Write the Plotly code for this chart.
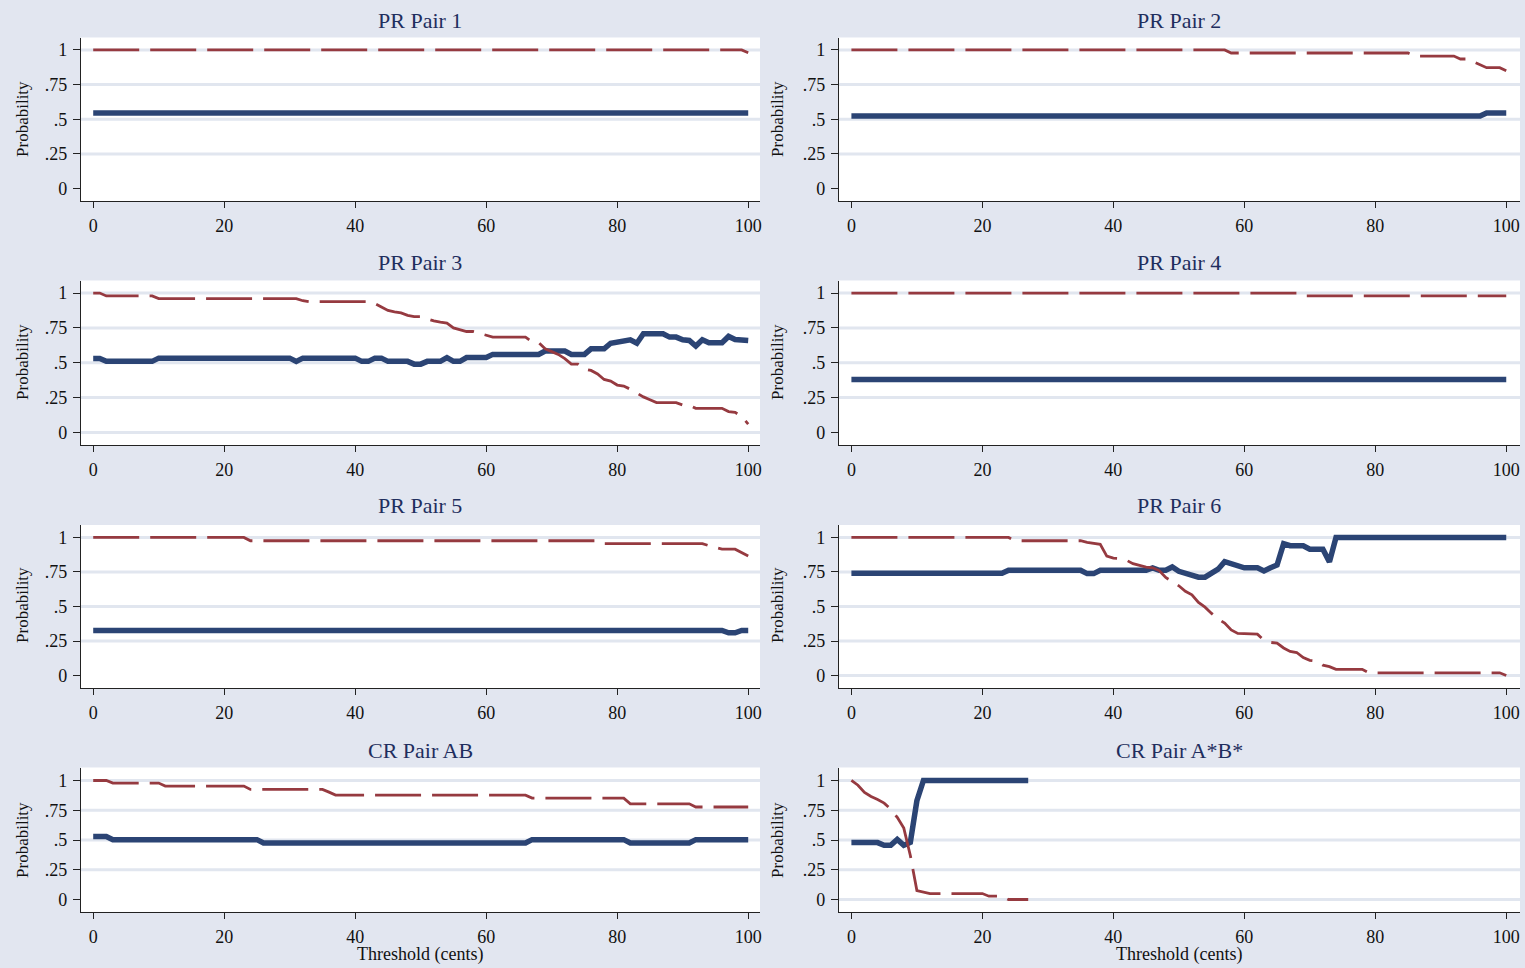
import plotly.graph_objects as go

# ---------------- data ----------------
titles = ["PR Pair 1", "PR Pair 2", "PR Pair 3", "PR Pair 4",
          "PR Pair 5", "PR Pair 6", "CR Pair AB", "CR Pair A*B*"]

x_ticks = [0, 20, 40, 60, 80, 100]
y_ticks = [0, 0.25, 0.5, 0.75, 1]
y_tick_labels = ["0", ".25", ".5", ".75", "1"]

# Panel 1
p1_solid_x = [0, 100]
p1_solid_y = [0.545, 0.545]
p1_dash_x = [0, 99, 100]
p1_dash_y = [1.0, 1.0, 0.98]

# Panel 2
p2_solid_x = [0, 96, 97, 100]
p2_solid_y = [0.523, 0.523, 0.545, 0.545]
p2_dash_x = [0, 57, 58, 85, 86, 92, 93, 94, 95, 96, 97, 99, 100]
p2_dash_y = [1.0, 1.0, 0.978, 0.978, 0.956, 0.956, 0.935, 0.935, 0.915, 0.895, 0.872, 0.872, 0.85]

# Panel 3
p3_solid_x = [0, 1, 2, 9, 10, 30, 31, 32, 40, 41, 42, 43, 44, 45, 48, 49, 50, 51, 53, 54, 55, 56,
              57, 60, 61, 68, 69, 72, 73, 75, 76, 78, 79, 80, 81, 82, 83, 84, 87, 88, 89, 90, 91,
              92, 93, 94, 96, 97, 98, 100]
p3_solid_y = [0.53, 0.53, 0.51, 0.51, 0.533, 0.533, 0.51, 0.533, 0.533, 0.51, 0.51, 0.533, 0.533,
              0.51, 0.51, 0.49, 0.49, 0.51, 0.51, 0.537, 0.51, 0.51, 0.537, 0.537, 0.56, 0.56,
              0.584, 0.584, 0.56, 0.56, 0.60, 0.60, 0.64, 0.648, 0.665, 0.665, 0.64, 0.708, 0.708,
              0.684, 0.684, 0.665, 0.66, 0.62, 0.665, 0.644, 0.644, 0.689, 0.667, 0.66]
p3_dash_x = [0, 1, 2, 9, 10, 31, 32, 33, 42, 43, 44, 45, 46, 47, 48, 49, 50, 51, 52, 53, 54, 55,
             56, 57, 58, 59, 60, 61, 66, 67, 68, 69, 70, 71, 72, 73, 74, 75, 76, 77, 78, 79, 80,
             81, 82, 83, 84, 85, 86, 89, 90, 91, 92, 96, 97, 98, 99, 100]
p3_dash_y = [1.0, 1.0, 0.979, 0.979, 0.96, 0.96, 0.945, 0.938, 0.938, 0.925, 0.90, 0.875, 0.865,
             0.857, 0.84, 0.831, 0.831, 0.815, 0.80, 0.791, 0.784, 0.75, 0.735, 0.724, 0.724,
             0.71, 0.70, 0.684, 0.684, 0.65, 0.645, 0.60, 0.58, 0.56, 0.53, 0.49, 0.49, 0.455,
             0.445, 0.42, 0.38, 0.368, 0.34, 0.333, 0.31, 0.28, 0.255, 0.235, 0.214, 0.214,
             0.197, 0.195, 0.173, 0.173, 0.15, 0.145, 0.114, 0.06]

# Panel 4
p4_solid_x = [0, 100]
p4_solid_y = [0.38, 0.38]
p4_dash_x = [0, 68, 69, 100]
p4_dash_y = [1.0, 1.0, 0.979, 0.979]

# Panel 5
p5_solid_x = [0, 96, 97, 98, 99, 100]
p5_solid_y = [0.327, 0.327, 0.31, 0.31, 0.327, 0.327]
p5_dash_x = [0, 23, 24, 77, 78, 93, 94, 95, 96, 98, 99, 100]
p5_dash_y = [1.0, 1.0, 0.976, 0.976, 0.955, 0.955, 0.94, 0.93, 0.915, 0.915, 0.89, 0.865]

# Panel 6
p6_solid_x = [0, 23, 24, 35, 36, 37, 38, 45, 46, 47, 48, 49, 50, 51, 52, 53, 54, 55, 56, 57, 58,
              59, 60, 62, 63, 64, 65, 66, 67, 69, 70, 72, 73, 74, 100]
p6_solid_y = [0.74, 0.74, 0.762, 0.762, 0.738, 0.738, 0.762, 0.762, 0.779, 0.762, 0.762, 0.786,
              0.755, 0.738, 0.728, 0.712, 0.712, 0.74, 0.77, 0.825, 0.81, 0.80, 0.78, 0.78,
              0.757, 0.78, 0.80, 0.955, 0.94, 0.94, 0.915, 0.915, 0.823, 1.0, 1.0]
p6_dash_x = [0, 24, 25, 35, 36, 37, 38, 39, 40, 41, 42, 43, 44, 45, 46, 47, 48, 49, 50, 51, 52,
             53, 54, 55, 56, 57, 58, 59, 62, 63, 64, 65, 66, 67, 68, 69, 70, 71, 72, 73, 74, 78,
             79, 99, 100]
p6_dash_y = [1.0, 1.0, 0.976, 0.976, 0.965, 0.955, 0.95, 0.865, 0.85, 0.847, 0.835, 0.81, 0.795,
             0.785, 0.78, 0.76, 0.71, 0.68, 0.65, 0.61, 0.585, 0.53, 0.495, 0.45, 0.41, 0.38,
             0.33, 0.305, 0.30, 0.255, 0.24, 0.235, 0.20, 0.175, 0.167, 0.13, 0.11, 0.105,
             0.075, 0.065, 0.045, 0.045, 0.02, 0.02, 0.0]

# Panel 7 (CR Pair AB)
p7_solid_x = [0, 2, 3, 25, 26, 66, 67, 81, 82, 91, 92, 100]
p7_solid_y = [0.53, 0.53, 0.503, 0.503, 0.475, 0.475, 0.503, 0.503, 0.475, 0.475, 0.503, 0.503]
p7_dash_x = [0, 2, 3, 10, 11, 23, 24, 35, 36, 37, 66, 67, 81, 82, 91, 92, 100]
p7_dash_y = [1.0, 1.0, 0.978, 0.978, 0.953, 0.953, 0.925, 0.925, 0.902, 0.877, 0.877, 0.852,
             0.852, 0.804, 0.804, 0.777, 0.777]

# Panel 8 (CR Pair A*B*)
p8_solid_x = [0, 4, 5, 6, 7, 8, 9, 10, 11, 27]
p8_solid_y = [0.478, 0.478, 0.455, 0.455, 0.505, 0.455, 0.48, 0.83, 1.0, 1.0]
p8_dash_x = [0, 1, 2, 3, 4, 5, 6, 7, 8, 9, 10, 11, 12, 20, 21, 23, 24, 27]
p8_dash_y = [1.0, 0.96, 0.90, 0.865, 0.84, 0.81, 0.76, 0.69, 0.60, 0.37, 0.075, 0.065, 0.05,
             0.05, 0.028, 0.028, 0.0, 0.0]

solid_series = [(p1_solid_x, p1_solid_y), (p2_solid_x, p2_solid_y), (p3_solid_x, p3_solid_y),
                (p4_solid_x, p4_solid_y), (p5_solid_x, p5_solid_y), (p6_solid_x, p6_solid_y),
                (p7_solid_x, p7_solid_y), (p8_solid_x, p8_solid_y)]
dash_series = [(p1_dash_x, p1_dash_y), (p2_dash_x, p2_dash_y), (p3_dash_x, p3_dash_y),
               (p4_dash_x, p4_dash_y), (p5_dash_x, p5_dash_y), (p6_dash_x, p6_dash_y),
               (p7_dash_x, p7_dash_y), (p8_dash_x, p8_dash_y)]
# panels that show the zero grid line
zero_grid = [False, False, True, False, False, True, False, True]

# ---------------- style / layout ----------------
W, H = 1525, 968
BG = "#E2E6F0"
GRID = "#E1E6EF"
NAVY = "#2B4474"
MAROON = "#963A40"
TITLE_COL = "#1F2E5E"
FONT = "Liberation Serif"

col_dom = [[81 / W, 761 / W], [840 / W, 1522 / W]]
col_rng = [[-1.88, 101.8], [-1.91, 102.1]]
row_dom = [[1 - 201 / H, 1 - 37.5 / H], [1 - 445 / H, 1 - 280.5 / H],
           [1 - 688 / H, 1 - 525 / H], [1 - 911.9 / H, 1 - 767.5 / H]]
row_rng = [[-0.09, 1.09], [-0.09, 1.09], [-0.09, 1.09], [-0.104, 1.109]]
title_y = [20, 262, 505, 750]
ylab_y = [119, 362, 605, 840]
ylab_x = [22, 778]

fig = go.Figure()
annotations = []
shapes = []

for i in range(8):
    r, c = divmod(i, 2)
    k = i + 1
    xa = "x" if k == 1 else f"x{k}"
    ya = "y" if k == 1 else f"y{k}"
    sx, sy = solid_series[i]
    dx, dy = dash_series[i]
    fig.add_trace(go.Scatter(x=sx, y=sy, mode="lines", xaxis=xa, yaxis=ya,
                             line=dict(color=NAVY, width=5.5), showlegend=False,
                             hoverinfo="skip"))
    fig.add_trace(go.Scatter(x=dx, y=dy, mode="lines", xaxis=xa, yaxis=ya,
                             line=dict(color=MAROON, width=2.8, dash="46px,11px"),
                             showlegend=False, hoverinfo="skip"))
    xkey = "xaxis" if k == 1 else f"xaxis{k}"
    ykey = "yaxis" if k == 1 else f"yaxis{k}"
    fig.update_layout({
        xkey: dict(domain=col_dom[c], anchor=ya, range=col_rng[c], tickvals=x_ticks,
                   ticks="outside", ticklen=6, tickcolor="#222", showline=True,
                   linecolor="#222", linewidth=1, showgrid=False, zeroline=False,
                   tickfont=dict(family=FONT, size=18, color="#111"),
                   ticklabelstandoff=2),
        ykey: dict(domain=row_dom[r], anchor=xa, range=row_rng[r], tickvals=y_ticks,
                   ticktext=y_tick_labels, ticks="outside", ticklen=7, tickcolor="#222",
                   showline=True, linecolor="#222", linewidth=1, showgrid=False,
                   zeroline=False, tickfont=dict(family=FONT, size=18, color="#111"),
                   ticklabelstandoff=2),
    })
    for gv in y_ticks:
        if gv == 0 and not zero_grid[i]:
            continue
        shapes.append(dict(type="line", xref=f"{xa} domain", yref=ya, x0=0, x1=1,
                           y0=gv, y1=gv, line=dict(color=GRID, width=3), layer="below"))
    annotations.append(dict(text=titles[i], x=sum(col_dom[c]) / 2, y=1 - title_y[r] / H,
                            xref="paper", yref="paper", showarrow=False,
                            font=dict(family=FONT, size=22, color=TITLE_COL),
                            xanchor="center", yanchor="middle"))
    annotations.append(dict(text="Probability", x=ylab_x[c] / W, y=1 - ylab_y[r] / H,
                            xref="paper", yref="paper", showarrow=False, textangle=-90,
                            font=dict(family=FONT, size=17, color="#111"),
                            xanchor="center", yanchor="middle"))
    if r == 3:
        annotations.append(dict(text="Threshold (cents)", x=sum(col_dom[c]) / 2,
                                y=1 - 954 / H, xref="paper", yref="paper", showarrow=False,
                                font=dict(family=FONT, size=18, color="#111"),
                                xanchor="center", yanchor="middle"))

fig.update_layout(width=W, height=H, margin=dict(l=0, r=0, t=0, b=0),
                  paper_bgcolor=BG, plot_bgcolor="white",
                  annotations=annotations, shapes=shapes, showlegend=False)

fig.write_html("out.html", config={"displayModeBar": False},
               post_script="document.body.style.margin='0';"
                           "document.body.style.overflow='hidden';")
